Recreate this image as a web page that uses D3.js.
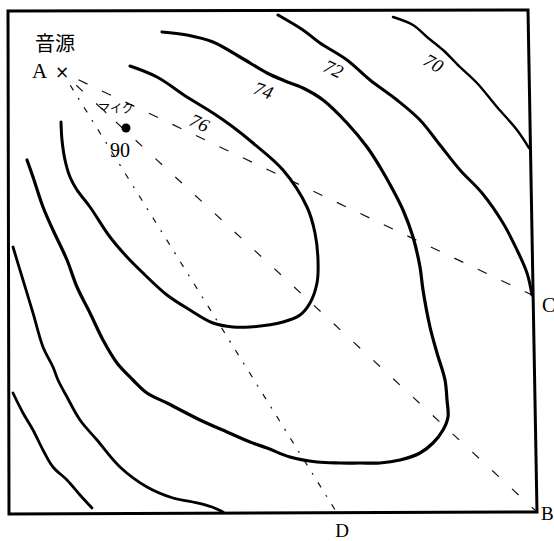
<!DOCTYPE html>
<html>
<head>
<meta charset="utf-8">
<script src="https://cdn.jsdelivr.net/npm/d3@7"></script>
<style>
  html, body { margin: 0; padding: 0; background: #fff; }
  svg { display: block; }
</style>
</head>
<body>
<svg id="chart" width="554" height="541"></svg>
<script>
// ---- data (room plan units, origin at top-left corner of the room) ----
const frameCorners = [[0, 0], [520, -1], [529, 501], [1, 503]];

const contourLevels = [76, 74, 72, 72, 70, 70];

const contour76 = [[122,55],[149,66],[179,86],[205,102],[225,116],[245,132],[275,159],[299,196],[307,222],[310,249],[309,272],[302,292],[292,304],[275,311],[242,316],[225,316],[205,312],[182,299],[159,284],[135,262],[119,246],[102,226],[82,196],[69,179],[62,166],[57,149],[54,129],[53,111]];

const contour74 = [[154,21],[179,24],[205,31],[232,46],[259,62],[277,70],[295,77],[315,89],[339,112],[359,136],[372,156],[385,179],[395,199],[405,226],[412,256],[415,279],[422,316],[429,342],[437,369],[439,389],[440,406],[435,419],[425,432],[412,442],[392,449],[372,452],[352,452],[332,452],[309,451],[282,446],[259,437],[242,431],[219,421],[192,409],[159,392],[139,382],[125,369],[109,352],[95,329],[82,302],[69,276],[59,249],[45,219],[35,196],[25,166],[19,149]];

const contour72Upper = [[270,4],[295,19],[312,32],[339,49],[362,69],[389,89],[412,109],[432,134],[452,159],[474,182],[495,212],[509,239],[519,262],[524,284]];

const contour72Lower = [[5,236],[15,269],[25,302],[35,336],[45,356],[50,369],[59,386],[72,409],[89,429],[112,456],[139,476],[165,487],[185,491],[204,496],[215,501]];

const contour70Upper = [[385,6],[405,14],[419,26],[435,39],[447,51],[452,56],[469,72],[489,96],[509,119],[521,137]];

const contour70Lower = [[5,382],[15,402],[25,419],[35,439],[45,456],[59,469],[72,484],[84,497]];

const contourLabels = [
  { text: "76", at: [186, 101], angle: 25 },
  { text: "74", at: [249, 69],  angle: 20 },
  { text: "72", at: [320, 47],  angle: 25 },
  { text: "70", at: [421, 41],  angle: 30 }
];

const sourceA = [54, 61];
const micPoint = [118, 117];
const micLevel = "90";
const pointB = [529, 501];
const pointC = [524, 284];
const pointD = [329, 502];

const pointNames = ["A", "B", "C", "D"];
const sourceTitle = "音源";
const micTitle = "マイク";

// ---- scales ----
const x = d3.scaleLinear().domain([0, 520]).range([8, 528]);
const y = d3.scaleLinear().domain([0, 503]).range([11, 514]);

const svg = d3.select("#chart");
const serif = "'Liberation Serif', 'DejaVu Serif', serif";
const cjk = "'Noto Sans CJK JP', 'Noto Sans CJK SC', sans-serif";

// frame
svg.append("path")
  .attr("d", d3.line().x(d => x(d[0])).y(d => y(d[1])).curve(d3.curveLinearClosed)(frameCorners))
  .attr("fill", "none")
  .attr("stroke", "#000")
  .attr("stroke-width", 3)
  .attr("stroke-linejoin", "miter");

// dashed sight lines from A
const sightLines = [
  { to: pointB, dash: "9,18", trim: 0.03 },
  { to: pointC, dash: "10,16", trim: 0.035 },
  { to: pointD, dash: "6,9,2,9", trim: 0.03 }
];
sightLines.forEach(s => {
  const start = d3.interpolate(sourceA, s.to)(s.trim);
  svg.append("line")
    .attr("x1", x(start[0])).attr("y1", y(start[1]))
    .attr("x2", x(s.to[0])).attr("y2", y(s.to[1]))
    .attr("stroke", "#111")
    .attr("stroke-width", 1.2)
    .attr("stroke-dasharray", s.dash);
});

// contours
const lineGen = d3.line()
  .x(d => x(d[0])).y(d => y(d[1]))
  .curve(d3.curveCatmullRom.alpha(0.5));

const contours = [contour76, contour74, contour72Upper, contour72Lower, contour70Upper, contour70Lower];
const widths = [3, 3.2, 3, 2.8, 2.4, 2.8];
contours.forEach((c, i) => {
  svg.append("path")
    .attr("class", "contour level-" + contourLevels[i])
    .attr("d", lineGen(c))
    .attr("fill", "none")
    .attr("stroke", "#000")
    .attr("stroke-width", widths[i])
    .attr("stroke-linecap", "round")
    .attr("stroke-linejoin", "round");
});

// contour labels
contourLabels.forEach(l => {
  svg.append("text")
    .attr("transform", `translate(${x(l.at[0])},${y(l.at[1])}) rotate(${l.angle})`)
    .attr("x", 0).attr("y", 14)
    .attr("font-family", serif)
    .attr("font-style", "italic")
    .attr("font-size", 19)
    .attr("fill", "#000")
    .text(l.text);
});

// source label
svg.append("text")
  .attr("x", x(sourceA[0]) - 27).attr("y", y(sourceA[1]) - 21)
  .attr("font-family", cjk)
  .attr("font-size", 20)
  .attr("fill", "#000")
  .text(sourceTitle);

svg.append("text")
  .attr("x", x(sourceA[0]) - 30).attr("y", y(sourceA[1]) + 6)
  .attr("font-family", serif)
  .attr("font-size", 21)
  .attr("fill", "#000")
  .text(pointNames[0]);

svg.append("text")
  .attr("x", x(sourceA[0])).attr("y", y(sourceA[1]) + 6)
  .attr("text-anchor", "middle")
  .attr("font-family", "'DejaVu Sans', sans-serif")
  .attr("font-size", 17)
  .attr("fill", "#000")
  .text("×");

// microphone
svg.append("circle")
  .attr("cx", x(micPoint[0])).attr("cy", y(micPoint[1]))
  .attr("r", 4.5)
  .attr("fill", "#000");

svg.append("text")
  .attr("x", x(micPoint[0]) - 28).attr("y", y(micPoint[1]) - 15)
  .attr("font-family", cjk)
  .attr("font-size", 12)
  .attr("fill", "#000")
  .text(micTitle);

svg.append("text")
  .attr("x", x(micPoint[0]) - 16).attr("y", y(micPoint[1]) + 29)
  .attr("font-family", serif)
  .attr("font-size", 20)
  .attr("fill", "#000")
  .text(micLevel);

// end point labels
svg.append("text")
  .attr("x", x(pointC[0]) + 10).attr("y", y(pointC[1]) + 17)
  .attr("font-family", serif).attr("font-size", 20).attr("fill", "#000")
  .text(pointNames[2]);

svg.append("text")
  .attr("x", x(pointB[0]) + 4).attr("y", y(pointB[1]) + 8)
  .attr("font-family", serif).attr("font-size", 19).attr("fill", "#000")
  .text(pointNames[1]);

svg.append("text")
  .attr("x", x(pointD[0]) + 5).attr("y", y(pointD[1]) + 24)
  .attr("text-anchor", "middle")
  .attr("font-family", serif).attr("font-size", 19).attr("fill", "#000")
  .text(pointNames[3]);
</script>
</body>
</html>
